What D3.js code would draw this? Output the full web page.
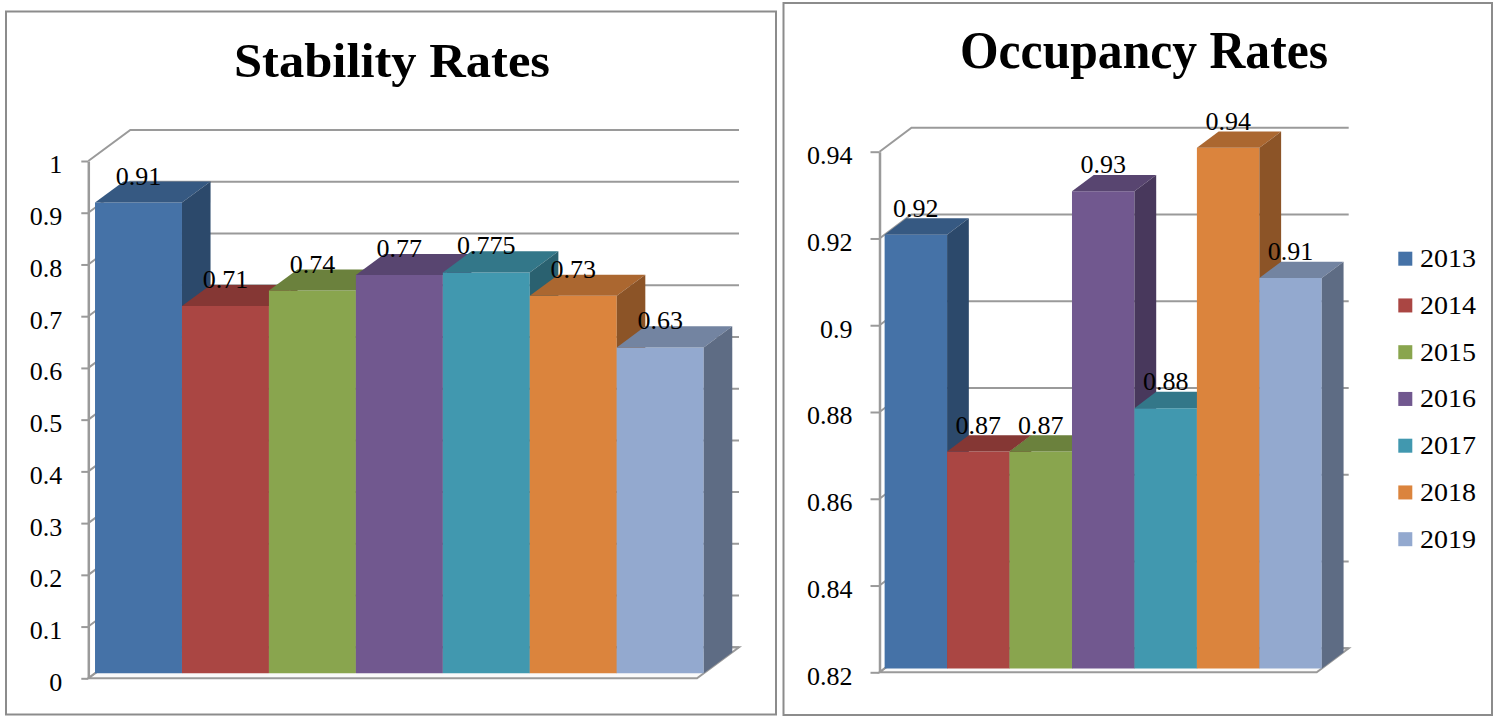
<!DOCTYPE html>
<html>
<head>
<meta charset="utf-8">
<script src="https://cdn.jsdelivr.net/npm/d3@7"></script>
<style>
  html, body { margin: 0; padding: 0; background: #ffffff; }
  svg { display: block; }
</style>
</head>
<body>
<svg id="chart" width="1495" height="716"></svg>
<script>
// ---------------- data ----------------
const years = ["2013", "2014", "2015", "2016", "2017", "2018", "2019"];
const colors = ["#4572A7", "#AA4643", "#89A54E", "#71588F", "#4198AF", "#DB843D", "#93A9CF"];

const stabilityValues = [0.91, 0.71, 0.74, 0.77, 0.775, 0.73, 0.63];
const stabilityLabels = ["0.91", "0.71", "0.74", "0.77", "0.775", "0.73", "0.63"];
const stabilityTicks = [0, 0.1, 0.2, 0.3, 0.4, 0.5, 0.6, 0.7, 0.8, 0.9, 1];
const stabilityTickLabels = ["0", "0.1", "0.2", "0.3", "0.4", "0.5", "0.6", "0.7", "0.8", "0.9", "1"];

const occupancyValues = [0.92, 0.87, 0.87, 0.93, 0.88, 0.94, 0.91];
const occupancyLabels = ["0.92", "0.87", "0.87", "0.93", "0.88", "0.94", "0.91"];
const occupancyTicks = [0.82, 0.84, 0.86, 0.88, 0.9, 0.92, 0.94];
const occupancyTickLabels = ["0.82", "0.84", "0.86", "0.88", "0.9", "0.92", "0.94"];

// ---------------- drawing ----------------
const svg = d3.select("#chart");
const FONT = "'Liberation Serif', 'Times New Roman', serif";
const GRID = "#9a9a9a";

function shade(c, k) {
  const col = d3.rgb(c);
  return d3.rgb(col.r * k, col.g * k, col.b * k).formatHex();
}

function drawChart(cfg) {
  const g = svg.append("g");

  // frame
  g.append("rect")
    .attr("x", cfg.box[0]).attr("y", cfg.box[1])
    .attr("width", cfg.box[2]).attr("height", cfg.box[3])
    .attr("fill", "#fff").attr("stroke", "#8c8c8c").attr("stroke-width", 2);

  // title
  const t = g.append("text")
    .attr("x", cfg.titleX).attr("y", cfg.titleY)
    .attr("text-anchor", "middle")
    .attr("font-family", FONT).attr("font-weight", "bold")
    .attr("font-size", cfg.titleSize)
    .attr("textLength", cfg.titleWidth).attr("lengthAdjust", "spacingAndGlyphs")
    .text(cfg.title);

  const y = d3.scaleLinear().domain(cfg.domain).range([cfg.yBase, cfg.yTop]);
  const x = d3.scaleBand().domain(years).range([cfg.x0, cfg.x1]).padding(0);
  const P = (px, v, z) => [px + z * cfg.DX, y(v) - z * cfg.DY];
  const line = d3.line();
  const vmin = cfg.domain[0];

  // floor
  g.append("path")
    .attr("d", line([P(cfg.x0, vmin, 0), P(cfg.x1, vmin, 0), P(cfg.x1, vmin, 1), P(cfg.x0, vmin, 1)]) + "Z")
    .attr("fill", "#fafafa").attr("stroke", GRID).attr("stroke-width", 2);

  // gridlines: side wall diagonal + back wall horizontal
  g.append("g").selectAll("path").data(cfg.ticks).join("path")
    .attr("d", d => line([P(cfg.x0, d, 0), P(cfg.x0, d, 1), P(cfg.x1, d, 1)]))
    .attr("fill", "none").attr("stroke", GRID).attr("stroke-width", 2);

  // front axis
  const axis = d3.axisLeft(y)
    .tickValues(cfg.ticks)
    .tickFormat((d, i) => cfg.tickLabels[i])
    .tickSize(cfg.tickSize).tickSizeOuter(0).tickPadding(cfg.tickPad);
  const ag = g.append("g").attr("transform", `translate(${cfg.x0},0)`).call(axis);
  ag.select(".domain").attr("stroke", GRID).attr("stroke-width", 2.5);
  ag.selectAll(".tick line").attr("stroke", GRID).attr("stroke-width", 2);
  ag.selectAll(".tick text")
    .attr("font-family", FONT).attr("font-size", 26).attr("fill", "#000")
    .attr("dy", "0.46em");

  // bars
  const z0 = 0.16, z1 = 0.84;
  const bars = g.append("g");
  cfg.values.forEach((v, i) => {
    const xa = x(years[i]), xb = xa + x.bandwidth();
    const c = colors[i];
    bars.append("path")
      .attr("d", line([P(xa, vmin, z0), P(xb, vmin, z0), P(xb, v, z0), P(xa, v, z0)]) + "Z")
      .attr("fill", c);
    bars.append("path")
      .attr("d", line([P(xa, v, z0), P(xb, v, z0), P(xb, v, z1), P(xa, v, z1)]) + "Z")
      .attr("fill", shade(c, 0.78));
    bars.append("path")
      .attr("d", line([P(xb, vmin, z0), P(xb, v, z0), P(xb, v, z1), P(xb, vmin, z1)]) + "Z")
      .attr("fill", shade(c, 0.64));
  });

  // data labels
  g.append("g").selectAll("text").data(cfg.values).join("text")
    .attr("x", (d, i) => P(x(years[i]) + x.bandwidth() / 2, d, z0)[0])
    .attr("y", (d, i) => P(0, d, z0)[1] - 18)
    .attr("text-anchor", "middle")
    .attr("font-family", FONT).attr("font-size", 26).attr("fill", "#000")
    .text((d, i) => cfg.labels[i]);
}

drawChart({
  box: [6, 11.5, 770, 703],
  title: "Stability Rates", titleX: 392, titleY: 77, titleSize: 48, titleWidth: 316,
  domain: [0, 1], yBase: 678.3, yTop: 161,
  x0: 88.3, x1: 697, DX: 42, DY: 31,
  ticks: stabilityTicks, tickLabels: stabilityTickLabels, tickSize: 7, tickPad: 19,
  values: stabilityValues, labels: stabilityLabels
});

drawChart({
  box: [783.5, 3, 708.5, 712],
  title: "Occupancy Rates", titleX: 1144, titleY: 68, titleSize: 52, titleWidth: 368,
  domain: [0.82, 0.94], yBase: 672.3, yTop: 151.7,
  x0: 879.5, x1: 1316.7, DX: 32, DY: 24,
  ticks: occupancyTicks, tickLabels: occupancyTickLabels, tickSize: 9, tickPad: 18,
  values: occupancyValues, labels: occupancyLabels
});

// legend (right chart)
const legend = svg.append("g").selectAll("g").data(years).join("g")
  .attr("transform", (d, i) => `translate(1398.3, ${258.7 + i * 46.75})`);
legend.append("rect")
  .attr("x", 0).attr("y", -7).attr("width", 14).attr("height", 14)
  .attr("fill", (d, i) => colors[i]);
legend.append("text")
  .attr("x", 21.7).attr("y", 8.5)
  .attr("font-family", FONT).attr("font-size", 26).attr("fill", "#000")
  .attr("textLength", 56).attr("lengthAdjust", "spacingAndGlyphs")
  .text(d => d);
</script>
</body>
</html>
